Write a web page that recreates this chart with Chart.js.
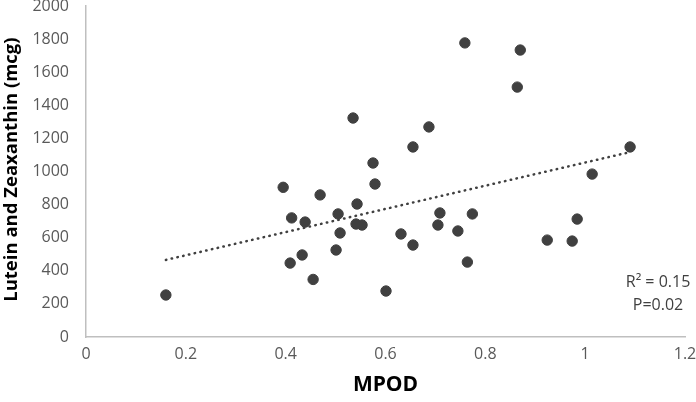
<!DOCTYPE html>
<html>
<head>
<meta charset="utf-8">
<script src="https://cdn.jsdelivr.net/npm/chart.js@4"></script>
<style>
  html, body { margin: 0; padding: 0; background: #fff; }
  #wrap { width: 696px; height: 402px; }
</style>
</head>
<body>
<div id="wrap"><canvas id="chart"></canvas></div>
<script>
// values
const mpod = [0.160, 0.395, 0.412, 0.409, 0.433, 0.439, 0.455, 0.469, 0.501, 0.505, 0.509, 0.535, 0.543, 0.541, 0.553,
  0.575, 0.579, 0.601, 0.631, 0.655, 0.655, 0.687, 0.705, 0.709, 0.745, 0.764, 0.759, 0.774, 0.864, 0.870,
  0.924, 0.974, 0.984, 1.014, 1.090];
const lutein = [254, 905, 720, 447, 496, 695, 348, 859, 526, 744, 629, 1324, 804, 683, 677,
  1052, 925, 278, 623, 556, 1149, 1270, 677, 750, 641, 453, 1778, 744, 1511, 1735,
  586, 580, 713, 985, 1149];
const trendX = [0.16, 1.09];
const trendY = [466, 1118];
const statLines = ['R\u00b2 = 0.15', 'P=0.02'];
const yTitle = 'Lutein and Zeaxanthin (mcg)';

// stats box and the y axis title, drawn by hand so they sit where the original has them
const extraText = {
  id: 'extraText',
  afterDatasetsDraw(chart) {
    const ctx = chart.ctx;
    const area = chart.chartArea;
    const x = chart.scales.x.getPixelForValue(1.146);
    const y = chart.scales.y.getPixelForValue(330);
    ctx.save();
    ctx.font = '16px "Open Sans"';
    ctx.fillStyle = '#404040';
    ctx.textAlign = 'center';
    ctx.textBaseline = 'middle';
    ctx.fillText(statLines[0], x, y);
    ctx.fillText(statLines[1], x, y + 23);

    ctx.translate(12, (area.top + area.bottom) / 2 - 2);
    ctx.rotate(-Math.PI / 2);
    ctx.font = 'bold 18.5px "Open Sans"';
    ctx.fillStyle = '#000';
    ctx.fillText(yTitle, 0, 0);
    ctx.restore();
  }
};

new Chart(document.getElementById('chart'), {
  type: 'scatter',
  data: {
    datasets: [{
      data: mpod.map((v, i) => ({ x: v, y: lutein[i] })),
      backgroundColor: '#404040',
      borderColor: '#404040',
      pointRadius: 5.2,
      pointHoverRadius: 5.2
    }, {
      type: 'line',
      data: trendX.map((v, i) => ({ x: v, y: trendY[i] })),
      borderColor: '#404040',
      borderWidth: 2.5,
      borderDash: [0.5, 5.4],
      borderCapStyle: 'round',
      pointRadius: 0,
      fill: false
    }]
  },
  options: {
    responsive: true,
    maintainAspectRatio: false,
    animation: false,
    layout: { padding: { top: 6, right: 11, left: 0, bottom: 0 } },
    plugins: { legend: { display: false }, tooltip: { enabled: false } },
    scales: {
      x: {
        type: 'linear',
        min: 0,
        max: 1.2,
        ticks: {
          stepSize: 0.2, color: '#595959', font: { family: 'Open Sans', size: 16 }, padding: 8,
          callback: v => String(Math.round(v * 10) / 10)
        },
        grid: { display: false, drawTicks: false },
        border: { color: '#bfbfbf', width: 1.5 },
        title: { display: true, text: 'MPOD', color: '#000', font: { family: 'Open Sans', size: 21, weight: 'bold' }, padding: { top: 3 } },
        afterFit(scale) { scale.height = 65; scale.paddingLeft = 0; scale.paddingRight = 0; }
      },
      y: {
        min: 0,
        max: 2000,
        ticks: {
          stepSize: 200, color: '#595959', font: { family: 'Open Sans', size: 16 }, padding: 17,
          callback: v => String(v)
        },
        grid: { display: false, drawTicks: false },
        border: { color: '#bfbfbf', width: 1.5 },
        afterFit(scale) { scale.width = 86; scale.paddingTop = 0; scale.paddingBottom = 0; }
      }
    }
  },
  plugins: [extraText]
});
</script>
</body>
</html>
